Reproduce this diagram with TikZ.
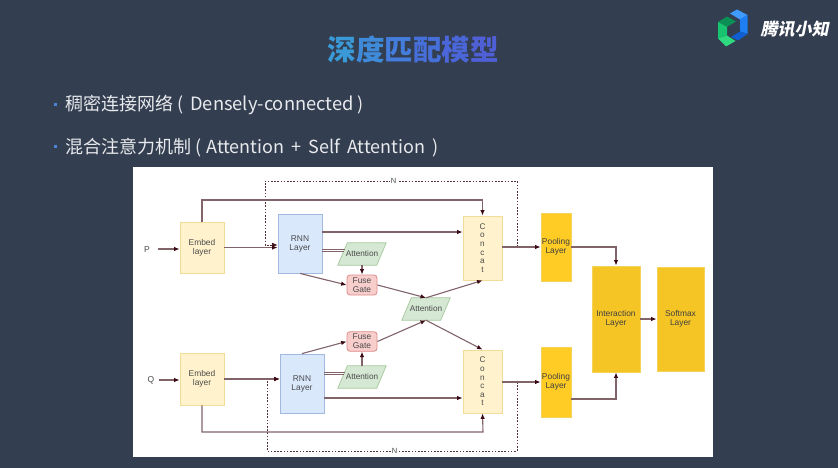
\documentclass[tikz,border=0pt]{standalone}
\usepackage{fontspec}
\setmainfont{Liberation Sans}
\newfontfamily\cjk{Noto Sans CJK SC}
\newfontfamily\cjki[FakeSlant=0.2]{Noto Sans CJK SC}
\usetikzlibrary{arrows.meta,calc}
\definecolor{bg}{HTML}{333E50}
\definecolor{ln}{HTML}{80646A}
\definecolor{tip}{HTML}{3C0A14}
\definecolor{lbl}{HTML}{4A4A4A}
\definecolor{txt}{HTML}{E8EAED}
\definecolor{cYel}{HTML}{FFF2CC}\definecolor{cYelD}{HTML}{F2DD98}
\definecolor{cBlu}{HTML}{DAE8FC}\definecolor{cBluD}{HTML}{A0B9DC}
\definecolor{cGrn}{HTML}{D5E8D4}\definecolor{cGrnD}{HTML}{A5C89A}
\definecolor{cRed}{HTML}{F8CECC}\definecolor{cRedD}{HTML}{DC8A88}
\definecolor{cPool}{HTML}{FFCB25}\definecolor{cPoolD}{HTML}{F5D25A}
\definecolor{cInt}{HTML}{F5C526}\definecolor{cIntD}{HTML}{F5D25A}
\definecolor{t1}{HTML}{3A9AD8}\definecolor{t2}{HTML}{3F8BDA}\definecolor{t3}{HTML}{437CDB}
\definecolor{t4}{HTML}{476FDA}\definecolor{t5}{HTML}{4B66D8}\definecolor{t6}{HTML}{4F60D6}
\definecolor{bdot}{HTML}{4A86D8}
\definecolor{lg1}{HTML}{3F9BFF}\definecolor{lg2}{HTML}{1E7FF5}\definecolor{lg3}{HTML}{0F5FD2}
\definecolor{lg4}{HTML}{0C8F55}\definecolor{lg5}{HTML}{17C46F}\definecolor{lg6}{HTML}{2ED97F}
\tikzset{
 box/.style={draw,line width=.8pt,inner sep=0pt,align=center,font=\fontsize{8.4}{9}\selectfont,text=lbl},
 embed/.style={box,fill=cYel,draw=cYelD},
 rnn/.style={box,fill=cBlu,draw=cBluD},
 att/.style={inner sep=0pt,minimum width=48pt,minimum height=22pt,align=center,font=\fontsize{8.2}{9}\selectfont,text=lbl},
 attshape/.style={fill=cGrn,draw=cGrnD,line width=.7pt},
 fuse/.style={box,rounded corners=3pt,fill=cRed,draw=cRedD},
 pool/.style={box,fill=cPool,draw=cPoolD,text=black!75},
 inter/.style={box,fill=cInt,draw=cIntD,text=black!75},
 conn/.style={draw=ln,line width=1.1pt,-{Latex[length=5.5pt,width=4.5pt,color=tip]}},
 plain/.style={draw=ln,line width=.8pt},
 loopline/.style={draw=tip!85,line width=.6pt,dash pattern=on 1.6pt off 1.6pt},
 looparrow/.style={loopline,-{Latex[length=5.5pt,width=4.5pt,color=tip]}},
 bul/.style={font=\cjk\fontsize{18}{20}\selectfont,text=txt,anchor=west,inner sep=0pt},
 concat/.style={embed,font=\fontsize{8.2}{8.6}\selectfont},
}
% parallelogram behind a named text node
\newcommand{\attnode}[3]{%
 \node[att] (#1) at (#2,#3) {};
 \path[attshape] ($(#1.south west)$) -- ($(#1.north west)+(9.5pt,0)$) -- (#1.north east) -- ($(#1.south east)+(-9.5pt,0)$) -- cycle;
 \node[att] at (#1) {Attention};
}
\begin{document}
\begin{tikzpicture}[x=1pt,y=-1pt]
\path[use as bounding box,fill=bg] (0,0) rectangle (838,468);
\fill[white] (133,167) rectangle (713,457);
% heading
\node[inner sep=0pt,font=\cjk\bfseries\fontsize{28.5}{30}\selectfont] (title) at (413,50)
 {\textcolor{t1}{深}\textcolor{t2}{度}\textcolor{t3}{匹}\textcolor{t4}{配}\textcolor{t5}{模}\textcolor{t6}{型}};
\fill[bdot] (54,103.5) rectangle (57,106.5);
\fill[bdot] (54,145.5) rectangle (57,148.5);
\node[bul] (b1) at (65,104.5) {稠密连接网络 (\hspace{3pt} {\fontsize{18.3}{20}\selectfont Densely-connected} )};
\node[bul] (b2) at (65,147.5) {混合注意力机制 (\hspace{1pt} Attention\hspace{3pt} +\hspace{3pt} Self\hspace{3pt} Attention\hspace{3pt} )};
% logo
\fill[lg1] (730,13.5) -- (737,9.5) -- (747.5,15) -- (740,19.5) -- cycle;
\fill[lg2] (740,19.5) -- (747.5,15) -- (747.5,34) -- (740,31.5) -- cycle;
\fill[lg3] (731,37) -- (740,31.5) -- (747.5,34) -- (738,40.5) -- cycle;
\fill[lg4] (718,22) -- (727,16.5) -- (736,21.5) -- (727,27) -- cycle;
\fill[lg5] (718,22) -- (727,27) -- (727,35.5) -- (718,38.5) -- cycle;
\fill[lg6] (718,38.5) -- (727,35.5) -- (735.5,41) -- (726,46.5) -- cycle;
\node[inner sep=0pt,anchor=west,text=white,font=\cjki\bfseries\fontsize{17}{18}\selectfont] (logo) at (760.5,29) {腾讯小知};
% P branch
\node[box,draw=none,anchor=center,font=\fontsize{8.5}{9}\selectfont] (P) at (147,250) {P};
\node[embed,minimum width=44pt,minimum height=51pt] (e1) at (202,247.5) {Embed\\layer};
\node[rnn,minimum width=44pt,minimum height=59pt] (r1) at (300,243.5) {RNN\\Layer};
\attnode{a1}{362}{254}
\node[fuse,minimum width=30pt,minimum height=20pt] (f1) at (362,285) {Fuse\\Gate};
\node[concat,minimum width=39pt,minimum height=64pt] (c1) at (482.5,248) {C\\o\\n\\c\\a\\t};
\node[pool,minimum width=30pt,minimum height=68pt] (p1) at (556,247) {Pooling\\Layer};
% middle
\attnode{am}{426}{309}
% Q branch
\node[box,draw=none,anchor=center,font=\fontsize{8.5}{9}\selectfont] (Q) at (151,380) {Q};
\node[embed,minimum width=44pt,minimum height=52pt] (e2) at (202,379) {Embed\\layer};
\node[rnn,minimum width=44pt,minimum height=59pt] (r2) at (302,383.5) {RNN\\Layer};
\attnode{a2}{362}{377}
\node[fuse,minimum width=30pt,minimum height=19.5pt] (f2) at (362,341.5) {Fuse\\Gate};
\node[concat,minimum width=39pt,minimum height=63pt] (c2) at (482.5,381.5) {C\\o\\n\\c\\a\\t};
\node[pool,minimum width=30pt,minimum height=70pt] (p2) at (556,382) {Pooling\\Layer};
% right
\node[inter,minimum width=48pt,minimum height=106pt] (il) at (616,319) {Interaction\\Layer};
\node[inter,minimum width=47pt,minimum height=104pt] (sl) at (680.5,319) {Softmax\\Layer};
% free ends
\coordinate (ps) at (158,249);
\coordinate (qs) at (159,380);
\coordinate (dp0) at (517,247);
\coordinate (dp1) at (517,181);
\coordinate (dp2) at (265,181);
\coordinate (dp3) at (265,245);
\coordinate (dq0) at (517,382);
\coordinate (dq1) at (517,451);
\coordinate (dq2) at (267,451);
\coordinate (dq3) at (267,379);
% dashed loops
\draw[looparrow] (dp0) -- (dp1) -- node[pos=.49,fill=white,inner sep=1pt,font=\fontsize{7.5}{8}\selectfont,text=lbl] (n1) {N} (dp2) -- (dp3) -- (dp3 -| r1.west);
\draw[looparrow] (dq0) -- (dq1) -- node[pos=.49,fill=white,inner sep=1pt,font=\fontsize{7.5}{8}\selectfont,text=lbl] (n2) {N} (dq2) -- (dq3) -- (dq3 -| r2.west);
% connectors P
\draw[conn] (ps) -- (ps -| e1.west);
\draw[conn] (e1.east) -- (e1.east -| r1.west);
\draw[conn] (e1.north) |- (482.5,200) -- (c1.north);
\draw[conn] (r1.east |- 0,232) -- (c1.west |- 0,232);
\draw[plain] (r1.east |- 0,249) -- (345,249);
\draw[plain] (r1.east |- 0,251.5) -- (344,251.5);
\draw[conn] (a1.south) -- (f1.north);
\draw[conn] (r1.south) -- (f1.west);
\draw[conn] (f1.east) -- (am.north);
\draw[conn] (am.north) -- (c1.south);
\draw[conn] (p1.west -| c1.east) -- (p1.west);
\draw[conn] (p1.east) -| (il.north);
% connectors Q
\draw[conn] (qs) -- (qs -| e2.west);
\draw[conn] (e2.east) -- (e2.east -| r2.west);
\draw[conn] (e2.south) |- (483,432) -- (c2.south);
\draw[conn] (r2.east |- 0,398) -- (c2.west |- 0,398);
\draw[plain] (r2.east |- 0,372) -- (345,372);
\draw[plain] (r2.east |- 0,374.5) -- (344,374.5);
\draw[conn] (a2.north) -- (f2.south);
\draw[conn] (r2.north) -- (f2.west);
\draw[conn] (f2.east) -- (am.south);
\draw[conn] (am.south) -- (c2.north);
\draw[conn] (p2.west -| c2.east) -- (p2.west);
\draw[conn] (p2.east |- 0,399) -| (il.south);
\draw[conn] (il.east) -- (sl.west);
\end{tikzpicture}
\end{document}
